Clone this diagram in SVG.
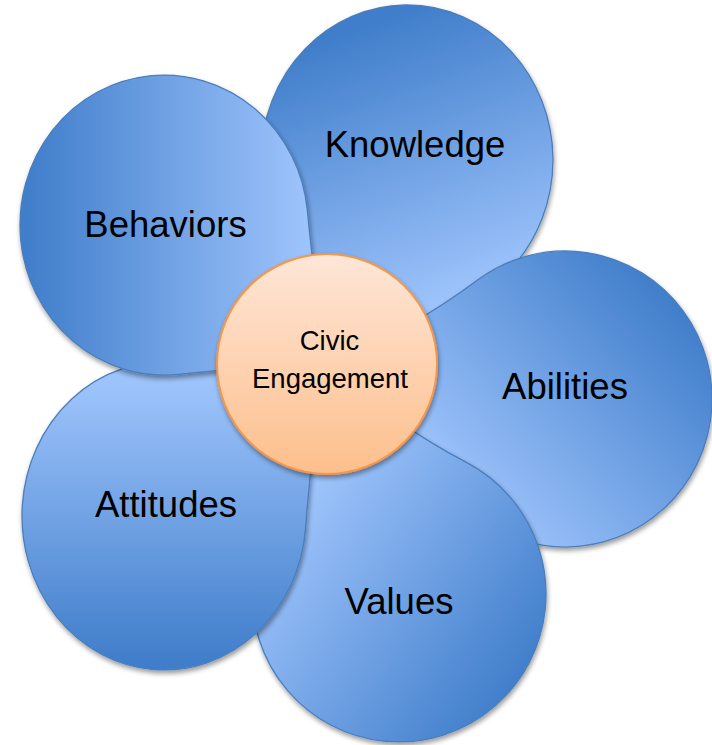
<svg xmlns="http://www.w3.org/2000/svg" width="712" height="745" viewBox="0 0 712 745">
  <defs>
    <filter id="shadow" x="-20%" y="-20%" width="140%" height="140%">
      <feGaussianBlur in="SourceAlpha" stdDeviation="2.5"/>
      <feOffset dx="1" dy="3" result="b"/>
      <feComponentTransfer><feFuncA type="linear" slope="0.4"/></feComponentTransfer>
      <feMerge><feMergeNode/><feMergeNode in="SourceGraphic"/></feMerge>
    </filter>
    <linearGradient id="gKnow" gradientUnits="userSpaceOnUse" x1="370" y1="20" x2="470" y2="290">
      <stop offset="0" stop-color="#3f7dca"/><stop offset="1" stop-color="#9dc3fb"/>
    </linearGradient>
    <linearGradient id="gAbil" gradientUnits="userSpaceOnUse" x1="680" y1="300" x2="470" y2="500">
      <stop offset="0" stop-color="#3f7dca"/><stop offset="1" stop-color="#9dc3fb"/>
    </linearGradient>
    <linearGradient id="gVal" gradientUnits="userSpaceOnUse" x1="520" y1="690" x2="290" y2="520">
      <stop offset="0" stop-color="#3f7dca"/><stop offset="1" stop-color="#9dc3fb"/>
    </linearGradient>
    <linearGradient id="gAtt" gradientUnits="userSpaceOnUse" x1="164" y1="665" x2="164" y2="385">
      <stop offset="0" stop-color="#3f7dca"/><stop offset="1" stop-color="#9dc3fb"/>
    </linearGradient>
    <linearGradient id="gBeh" gradientUnits="userSpaceOnUse" x1="22" y1="225" x2="305" y2="225">
      <stop offset="0" stop-color="#3f7dca"/><stop offset="1" stop-color="#9dc3fb"/>
    </linearGradient>
    <linearGradient id="gCenter" x1="0" y1="0" x2="0" y2="1">
      <stop offset="0" stop-color="#fee6d7"/><stop offset="1" stop-color="#fdbf8c"/>
    </linearGradient>
  </defs>
  <style>
    .petal { stroke: #4a7ebb; stroke-width: 1.3; filter: url(#shadow); }
    .label { font-family: "Liberation Sans", Arial, sans-serif; font-size: 36.5px; fill: #000; text-anchor: middle; }
    .clabel { font-family: "Liberation Sans", Arial, sans-serif; font-size: 27.5px; fill: #000; text-anchor: middle; }
  </style>
  <g id="connectors"/>
  <g id="knowledge">
    <path class="petal" fill="url(#gKnow)" d="M272.0,219.1 Q300.1,291.3 327,364 Q394.6,333.1 462.6,303.3 A146,155 0 1 0 272.0,219.1 Z"/>
    <text class="label" x="415" y="157">Knowledge</text>
  </g>
  <g id="abilities">
    <path class="petal" fill="url(#gAbil)" d="M477.2,280.3 Q409.0,331.5 327,364 Q396.3,418.8 447.1,487.4 A147,148 0 1 0 477.2,280.3 Z"/>
    <text class="label" x="565" y="399">Abilities</text>
  </g>
  <g id="values">
    <path class="petal" fill="url(#gVal)" d="M466.9,462.7 Q391.8,423.3 327,364 Q307.7,450.0 268.6,525.6 A147,148 0 1 0 466.9,462.7 Z"/>
    <text class="label" x="399" y="614">Values</text>
  </g>
  <g id="attitudes">
    <path class="petal" fill="url(#gAtt)" d="M305.6,527.6 Q311.3,445.4 327,364 Q250.5,368.6 174.7,362.4 A142,154 0 1 0 305.6,527.6 Z"/>
    <text class="label" x="166" y="516.7">Attitudes</text>
  </g>
  <g id="behaviors">
    <path class="petal" fill="url(#gBeh)" d="M178.3,374.3 Q252.4,366.6 327,364 Q314.7,287.3 307.3,210.1 A144,150 0 1 0 178.3,374.3 Z"/>
    <text class="label" x="165.5" y="236.7">Behaviors</text>
  </g>
  <g id="civic-engagement">
    <circle cx="327" cy="364" r="110" fill="url(#gCenter)" stroke="#f79646" stroke-width="2" filter="url(#shadow)"/>
    <text class="clabel" x="329.5" y="350">Civic</text>
    <text class="clabel" x="330" y="388">Engagement</text>
  </g>
</svg>
